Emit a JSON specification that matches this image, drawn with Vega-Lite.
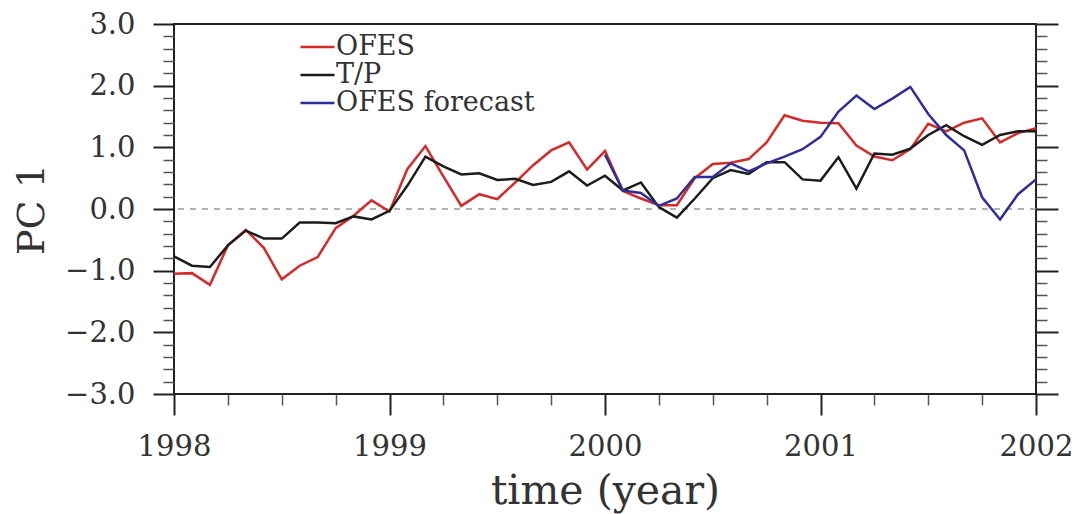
{
  "$schema": "https://vega.github.io/schema/vega-lite/v6.json",
  "width": 862,
  "height": 370,
  "autosize": "none",
  "padding": {"left": 174, "top": 24, "right": 39, "bottom": 120},
  "background": "#ffffff",
  "config": {
    "view": {"stroke": "#222222", "strokeWidth": 2},
    "axis": {"grid": false, "domain": false, "labelFont": "DejaVu Serif", "titleFont": "DejaVu Serif", "labelColor": "#333333", "titleColor": "#333333", "titleFontWeight": "normal", "labelFlush": false, "labelOverlap": false}
  },
  "datasets": {
    "pc": [
      {"t": 1998.0, "s": "OFES", "v": -1.05}, {"t": 1998.0833, "s": "OFES", "v": -1.04}, {"t": 1998.1667, "s": "OFES", "v": -1.23}, {"t": 1998.25, "s": "OFES", "v": -0.59},
      {"t": 1998.3333, "s": "OFES", "v": -0.34}, {"t": 1998.4167, "s": "OFES", "v": -0.63}, {"t": 1998.5, "s": "OFES", "v": -1.14}, {"t": 1998.5833, "s": "OFES", "v": -0.92},
      {"t": 1998.6667, "s": "OFES", "v": -0.78}, {"t": 1998.75, "s": "OFES", "v": -0.31}, {"t": 1998.8333, "s": "OFES", "v": -0.11}, {"t": 1998.9167, "s": "OFES", "v": 0.14},
      {"t": 1999.0, "s": "OFES", "v": -0.04}, {"t": 1999.0833, "s": "OFES", "v": 0.65}, {"t": 1999.1667, "s": "OFES", "v": 1.02}, {"t": 1999.25, "s": "OFES", "v": 0.53},
      {"t": 1999.3333, "s": "OFES", "v": 0.05}, {"t": 1999.4167, "s": "OFES", "v": 0.24}, {"t": 1999.5, "s": "OFES", "v": 0.16}, {"t": 1999.5833, "s": "OFES", "v": 0.43},
      {"t": 1999.6667, "s": "OFES", "v": 0.71}, {"t": 1999.75, "s": "OFES", "v": 0.95}, {"t": 1999.8333, "s": "OFES", "v": 1.08}, {"t": 1999.9167, "s": "OFES", "v": 0.64},
      {"t": 2000.0, "s": "OFES", "v": 0.94}, {"t": 2000.0833, "s": "OFES", "v": 0.29}, {"t": 2000.1667, "s": "OFES", "v": 0.17}, {"t": 2000.25, "s": "OFES", "v": 0.06},
      {"t": 2000.3333, "s": "OFES", "v": 0.06}, {"t": 2000.4167, "s": "OFES", "v": 0.50}, {"t": 2000.5, "s": "OFES", "v": 0.73}, {"t": 2000.5833, "s": "OFES", "v": 0.75},
      {"t": 2000.6667, "s": "OFES", "v": 0.81}, {"t": 2000.75, "s": "OFES", "v": 1.08}, {"t": 2000.8333, "s": "OFES", "v": 1.52}, {"t": 2000.9167, "s": "OFES", "v": 1.43},
      {"t": 2001.0, "s": "OFES", "v": 1.40}, {"t": 2001.0833, "s": "OFES", "v": 1.39}, {"t": 2001.1667, "s": "OFES", "v": 1.03}, {"t": 2001.25, "s": "OFES", "v": 0.85},
      {"t": 2001.3333, "s": "OFES", "v": 0.79}, {"t": 2001.4167, "s": "OFES", "v": 0.97}, {"t": 2001.5, "s": "OFES", "v": 1.38}, {"t": 2001.5833, "s": "OFES", "v": 1.26},
      {"t": 2001.6667, "s": "OFES", "v": 1.40}, {"t": 2001.75, "s": "OFES", "v": 1.47}, {"t": 2001.8333, "s": "OFES", "v": 1.08}, {"t": 2001.9167, "s": "OFES", "v": 1.23},
      {"t": 2002.0, "s": "OFES", "v": 1.31},
      {"t": 1998.0, "s": "T/P", "v": -0.77}, {"t": 1998.0833, "s": "T/P", "v": -0.92}, {"t": 1998.1667, "s": "T/P", "v": -0.94}, {"t": 1998.25, "s": "T/P", "v": -0.59},
      {"t": 1998.3333, "s": "T/P", "v": -0.35}, {"t": 1998.4167, "s": "T/P", "v": -0.48}, {"t": 1998.5, "s": "T/P", "v": -0.48}, {"t": 1998.5833, "s": "T/P", "v": -0.22},
      {"t": 1998.6667, "s": "T/P", "v": -0.22}, {"t": 1998.75, "s": "T/P", "v": -0.23}, {"t": 1998.8333, "s": "T/P", "v": -0.12}, {"t": 1998.9167, "s": "T/P", "v": -0.17},
      {"t": 1999.0, "s": "T/P", "v": -0.03}, {"t": 1999.0833, "s": "T/P", "v": 0.38}, {"t": 1999.1667, "s": "T/P", "v": 0.85}, {"t": 1999.25, "s": "T/P", "v": 0.69},
      {"t": 1999.3333, "s": "T/P", "v": 0.56}, {"t": 1999.4167, "s": "T/P", "v": 0.58}, {"t": 1999.5, "s": "T/P", "v": 0.47}, {"t": 1999.5833, "s": "T/P", "v": 0.49},
      {"t": 1999.6667, "s": "T/P", "v": 0.39}, {"t": 1999.75, "s": "T/P", "v": 0.44}, {"t": 1999.8333, "s": "T/P", "v": 0.61}, {"t": 1999.9167, "s": "T/P", "v": 0.38},
      {"t": 2000.0, "s": "T/P", "v": 0.54}, {"t": 2000.0833, "s": "T/P", "v": 0.30}, {"t": 2000.1667, "s": "T/P", "v": 0.43}, {"t": 2000.25, "s": "T/P", "v": 0.03},
      {"t": 2000.3333, "s": "T/P", "v": -0.14}, {"t": 2000.4167, "s": "T/P", "v": 0.17}, {"t": 2000.5, "s": "T/P", "v": 0.50}, {"t": 2000.5833, "s": "T/P", "v": 0.63},
      {"t": 2000.6667, "s": "T/P", "v": 0.57}, {"t": 2000.75, "s": "T/P", "v": 0.76}, {"t": 2000.8333, "s": "T/P", "v": 0.76}, {"t": 2000.9167, "s": "T/P", "v": 0.48},
      {"t": 2001.0, "s": "T/P", "v": 0.46}, {"t": 2001.0833, "s": "T/P", "v": 0.84}, {"t": 2001.1667, "s": "T/P", "v": 0.33}, {"t": 2001.25, "s": "T/P", "v": 0.90},
      {"t": 2001.3333, "s": "T/P", "v": 0.88}, {"t": 2001.4167, "s": "T/P", "v": 0.98}, {"t": 2001.5, "s": "T/P", "v": 1.20}, {"t": 2001.5833, "s": "T/P", "v": 1.36},
      {"t": 2001.6667, "s": "T/P", "v": 1.18}, {"t": 2001.75, "s": "T/P", "v": 1.04}, {"t": 2001.8333, "s": "T/P", "v": 1.20}, {"t": 2001.9167, "s": "T/P", "v": 1.26},
      {"t": 2002.0, "s": "T/P", "v": 1.26},
      {"t": 2000.0, "s": "OFES forecast", "v": 0.88}, {"t": 2000.0833, "s": "OFES forecast", "v": 0.30}, {"t": 2000.1667, "s": "OFES forecast", "v": 0.26}, {"t": 2000.25, "s": "OFES forecast", "v": 0.05},
      {"t": 2000.3333, "s": "OFES forecast", "v": 0.17}, {"t": 2000.4167, "s": "OFES forecast", "v": 0.52}, {"t": 2000.5, "s": "OFES forecast", "v": 0.52}, {"t": 2000.5833, "s": "OFES forecast", "v": 0.74},
      {"t": 2000.6667, "s": "OFES forecast", "v": 0.61}, {"t": 2000.75, "s": "OFES forecast", "v": 0.74}, {"t": 2000.8333, "s": "OFES forecast", "v": 0.85}, {"t": 2000.9167, "s": "OFES forecast", "v": 0.97},
      {"t": 2001.0, "s": "OFES forecast", "v": 1.17}, {"t": 2001.0833, "s": "OFES forecast", "v": 1.58}, {"t": 2001.1667, "s": "OFES forecast", "v": 1.84}, {"t": 2001.25, "s": "OFES forecast", "v": 1.62},
      {"t": 2001.3333, "s": "OFES forecast", "v": 1.79}, {"t": 2001.4167, "s": "OFES forecast", "v": 1.98}, {"t": 2001.5, "s": "OFES forecast", "v": 1.54}, {"t": 2001.5833, "s": "OFES forecast", "v": 1.20},
      {"t": 2001.6667, "s": "OFES forecast", "v": 0.95}, {"t": 2001.75, "s": "OFES forecast", "v": 0.19}, {"t": 2001.8333, "s": "OFES forecast", "v": -0.17}, {"t": 2001.9167, "s": "OFES forecast", "v": 0.24},
      {"t": 2002.0, "s": "OFES forecast", "v": 0.48}
    ],
    "zero": [{"z": 0}]
  },
  "layer": [
    {
      "data": {"name": "zero"},
      "mark": {"type": "rule", "color": "#9a9a9a", "strokeWidth": 1.5, "strokeDash": [6, 6]},
      "encoding": {
        "y": {"field": "z", "type": "quantitative", "scale": {"domain": [-3, 3], "nice": false, "zero": false},
          "axis": {"orient": "left", "values": [-2.8, -2.6, -2.4, -2.2, -1.8, -1.6, -1.4, -1.2, -0.8, -0.6, -0.4, -0.2, 0.2, 0.4, 0.6, 0.8, 1.2, 1.4, 1.6, 1.8, 2.2, 2.4, 2.6, 2.8], "tickSize": 11, "tickWidth": 1.5, "tickColor": "#555555", "labels": false, "title": null}}
      }
    },
    {
      "data": {"name": "pc"},
      "mark": {"type": "line", "strokeWidth": 2.5},
      "encoding": {
        "x": {"field": "t", "type": "quantitative", "scale": {"domain": [1998, 2002], "nice": false, "zero": false},
          "axis": {"orient": "bottom", "values": [1998, 1999, 2000, 2001, 2002], "format": "d", "tickSize": 21, "tickWidth": 2, "tickColor": "#222222", "labelFontSize": 29, "labelPadding": 17, "title": "time (year)", "titleFontSize": 41, "titleX": 431, "titleY": 109, "titleBaseline": "alphabetic", "titleAlign": "center"}},
        "y": {"field": "v", "type": "quantitative", "scale": {"domain": [-3, 3], "nice": false, "zero": false},
          "axis": {"orient": "left", "values": [-3, -2, -1, 0, 1, 2, 3], "format": ".1f", "tickSize": 21, "tickWidth": 2, "tickColor": "#222222", "labelFontSize": 29, "labelPadding": 18, "title": "PC 1", "titleFontSize": 38, "titleAngle": 270, "titleX": -131, "titleY": 185, "titleBaseline": "alphabetic", "titleAlign": "center"}},
        "color": {"field": "s", "type": "nominal",
          "scale": {"domain": ["OFES", "T/P", "OFES forecast"], "range": ["#d42a2a", "#1c1c1c", "#2e2e96"]},
          "legend": {"orient": "none", "legendX": 125, "legendY": 9, "title": null, "padding": 0, "symbolType": "stroke", "symbolSize": 1156, "symbolStrokeWidth": 2.5, "labelFont": "DejaVu Serif", "labelFontSize": 27, "labelColor": "#333333", "labelOffset": 0, "labelLimit": 0, "clipHeight": 28, "rowPadding": 0}}
      }
    },
    {
      "data": {"name": "pc"},
      "mark": {"type": "point", "opacity": 0},
      "encoding": {
        "x": {"field": "t", "type": "quantitative", "scale": {"domain": [1998, 2002], "nice": false, "zero": false},
          "axis": {"orient": "bottom", "values": [1998.25, 1998.5, 1998.75, 1999.25, 1999.5, 1999.75, 2000.25, 2000.5, 2000.75, 2001.25, 2001.5, 2001.75], "tickSize": 11, "tickWidth": 1.5, "tickColor": "#555555", "labels": false, "title": null}},
        "y": {"field": "v", "type": "quantitative", "scale": {"domain": [-3, 3], "nice": false, "zero": false},
          "axis": {"orient": "right", "values": [-3, -2, -1, 0, 1, 2, 3], "tickSize": 22, "tickWidth": 2, "tickColor": "#222222", "labels": false, "title": null}}
      }
    },
    {
      "data": {"name": "pc"},
      "mark": {"type": "point", "opacity": 0},
      "encoding": {
        "y": {"field": "v", "type": "quantitative", "scale": {"domain": [-3, 3], "nice": false, "zero": false},
          "axis": {"orient": "right", "values": [-2.8, -2.6, -2.4, -2.2, -1.8, -1.6, -1.4, -1.2, -0.8, -0.6, -0.4, -0.2, 0.2, 0.4, 0.6, 0.8, 1.2, 1.4, 1.6, 1.8, 2.2, 2.4, 2.6, 2.8], "tickSize": 11, "tickWidth": 1.5, "tickColor": "#555555", "labels": false, "title": null}}
      }
    }
  ],
  "resolve": {"axis": {"x": "independent", "y": "independent"}}
}
